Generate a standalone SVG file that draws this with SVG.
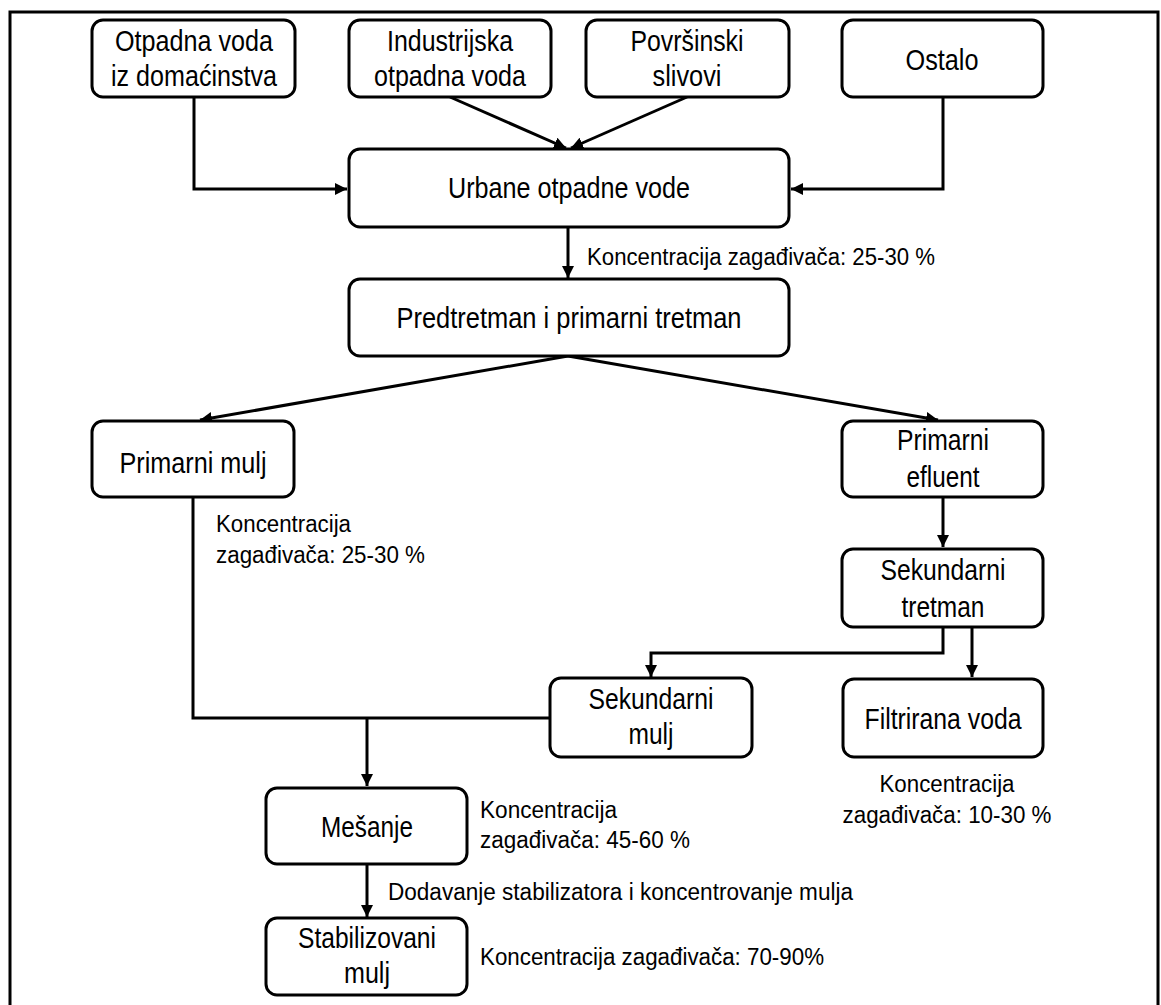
<svg xmlns="http://www.w3.org/2000/svg" width="1161" height="1005" viewBox="0 0 1161 1005">
<style>
.box{fill:#fff;stroke:#000;stroke-width:3}
.ln{fill:none;stroke:#000;stroke-width:3}
.t{font-family:'Liberation Sans Narrow','Liberation Sans',Arial,sans-serif;font-size:29px;fill:#000;text-anchor:middle}
.l{font-family:'Liberation Sans Narrow','Liberation Sans',Arial,sans-serif;font-size:23px;fill:#000}
.lc{text-anchor:middle}
</style>
<defs>
<marker id="ah" viewBox="0 0 10 10" refX="10" refY="5" markerWidth="4" markerHeight="4" orient="auto" markerUnits="strokeWidth">
<path d="M0,0 L10,5 L0,10 z" fill="#000"/>
</marker>
</defs>
<rect x="0" y="0" width="1161" height="1005" fill="#fff"/>
<path d="M10,1010 V12 H1158 V1010" fill="none" stroke="#000" stroke-width="3"/>
<g id="connectors">
<path class="ln" d="M194,97 V189 H347" marker-end="url(#ah)"/>
<path class="ln" d="M943,97 V189 H791" marker-end="url(#ah)"/>
<path class="ln" d="M450,97 L566,148" marker-end="url(#ah)"/>
<path class="ln" d="M687,97 L571,148" marker-end="url(#ah)"/>
<path class="ln" d="M568,227 V278" marker-end="url(#ah)"/>
<path class="ln" d="M568,356 L200,420" marker-end="url(#ah)"/>
<path class="ln" d="M568,356 L938,420" marker-end="url(#ah)"/>
<path class="ln" d="M943,497 V547" marker-end="url(#ah)"/>
<path class="ln" d="M943,627 V653 H651 V677" marker-end="url(#ah)"/>
<path class="ln" d="M972,627 V677" marker-end="url(#ah)"/>
<path class="ln" d="M193,497 V718 H550"/>
<path class="ln" d="M367,718 V786" marker-end="url(#ah)"/>
<path class="ln" d="M367,864 V917" marker-end="url(#ah)"/>
</g>
<g id="n1"><rect class="box" x="92" y="20" width="203" height="77" rx="11"/><text class="t" x="194" y="51" textLength="158" lengthAdjust="spacingAndGlyphs">Otpadna  voda</text><text class="t" x="194" y="86" textLength="166" lengthAdjust="spacingAndGlyphs">iz domaćinstva</text></g>
<g id="n2"><rect class="box" x="349" y="20" width="202" height="77" rx="11"/><text class="t" x="450" y="51" textLength="126" lengthAdjust="spacingAndGlyphs">Industrijska</text><text class="t" x="450" y="86" textLength="152" lengthAdjust="spacingAndGlyphs">otpadna  voda</text></g>
<g id="n3"><rect class="box" x="586" y="20" width="203" height="77" rx="11"/><text class="t" x="687" y="51" textLength="113" lengthAdjust="spacingAndGlyphs">Površinski</text><text class="t" x="687" y="86" textLength="69" lengthAdjust="spacingAndGlyphs">slivovi</text></g>
<g id="n4"><rect class="box" x="842" y="20" width="201" height="77" rx="11"/><text class="t" x="942" y="70" textLength="73" lengthAdjust="spacingAndGlyphs">Ostalo</text></g>
<g id="n5"><rect class="box" x="349" y="149" width="440" height="78" rx="11"/><text class="t" x="569" y="198" textLength="242" lengthAdjust="spacingAndGlyphs">Urbane  otpadne  vode</text></g>
<g id="n6"><rect class="box" x="349" y="279" width="440" height="77" rx="11"/><text class="t" x="569" y="328" textLength="345" lengthAdjust="spacingAndGlyphs">Predtretman  i primarni  tretman</text></g>
<g id="n7"><rect class="box" x="92" y="421" width="202" height="76" rx="11"/><text class="t" x="193" y="473" textLength="147" lengthAdjust="spacingAndGlyphs">Primarni  mulj</text></g>
<g id="n8"><rect class="box" x="842" y="421" width="201" height="76" rx="11"/><text class="t" x="943" y="450" textLength="92" lengthAdjust="spacingAndGlyphs">Primarni</text><text class="t" x="943" y="487" textLength="73" lengthAdjust="spacingAndGlyphs">efluent</text></g>
<g id="n9"><rect class="box" x="842" y="549" width="201" height="78" rx="11"/><text class="t" x="943" y="580" textLength="125" lengthAdjust="spacingAndGlyphs">Sekundarni</text><text class="t" x="943" y="617" textLength="83" lengthAdjust="spacingAndGlyphs">tretman</text></g>
<g id="n10"><rect class="box" x="550" y="678" width="202" height="79" rx="11"/><text class="t" x="651" y="709" textLength="125" lengthAdjust="spacingAndGlyphs">Sekundarni</text><text class="t" x="651" y="744" textLength="45" lengthAdjust="spacingAndGlyphs">mulj</text></g>
<g id="n11"><rect class="box" x="843" y="679" width="200" height="78" rx="11"/><text class="t" x="943" y="729" textLength="157" lengthAdjust="spacingAndGlyphs">Filtrirana  voda</text></g>
<g id="n12"><rect class="box" x="266" y="788" width="201" height="76" rx="11"/><text class="t" x="367" y="837" textLength="92" lengthAdjust="spacingAndGlyphs">Mešanje</text></g>
<g id="n13"><rect class="box" x="266" y="918" width="201" height="77" rx="11"/><text class="t" x="367" y="948" textLength="138" lengthAdjust="spacingAndGlyphs">Stabilizovani</text><text class="t" x="367" y="983" textLength="46" lengthAdjust="spacingAndGlyphs">mulj</text></g>
<g id="labels">
<text class="l" x="587" y="265" textLength="348" lengthAdjust="spacingAndGlyphs">Koncentracija zagađivača:  25-30 %</text>
<text class="l" x="216" y="532" textLength="135" lengthAdjust="spacingAndGlyphs">Koncentracija</text>
<text class="l" x="216" y="563" textLength="209" lengthAdjust="spacingAndGlyphs">zagađivača: 25-30 %</text>
<text class="l lc" x="947" y="792" textLength="135" lengthAdjust="spacingAndGlyphs">Koncentracija</text>
<text class="l lc" x="947" y="823" textLength="209" lengthAdjust="spacingAndGlyphs">zagađivača: 10-30 %</text>
<text class="l" x="480" y="818" textLength="137" lengthAdjust="spacingAndGlyphs">Koncentracija</text>
<text class="l" x="480" y="848" textLength="210" lengthAdjust="spacingAndGlyphs">zagađivača: 45-60 %</text>
<text class="l" x="388" y="900" textLength="465" lengthAdjust="spacingAndGlyphs">Dodavanje stabilizatora i koncentrovanje mulja</text>
<text class="l" x="480" y="965" textLength="344" lengthAdjust="spacingAndGlyphs">Koncentracija zagađivača: 70-90%</text>
</g>
</svg>
